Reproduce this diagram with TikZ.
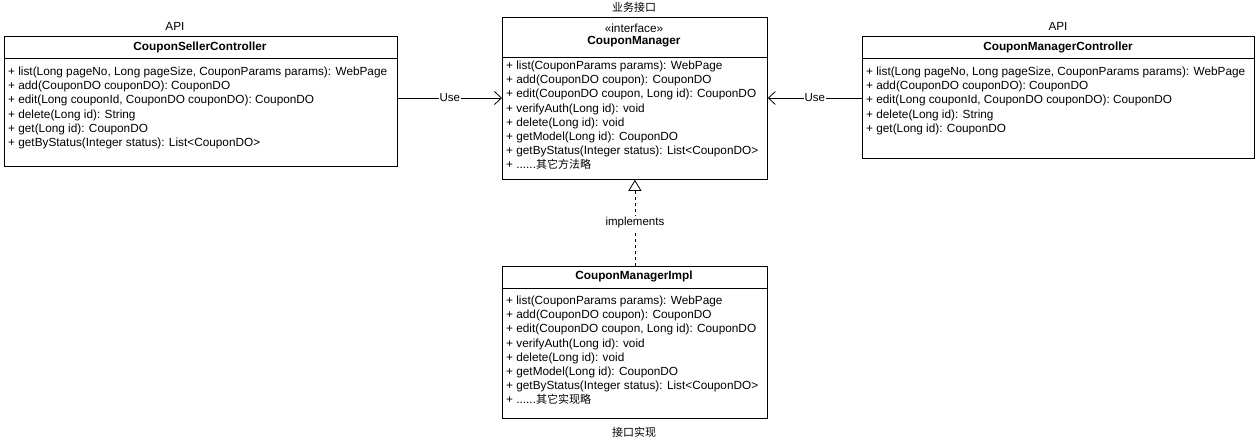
\documentclass[tikz,border=0pt]{standalone}
\usepackage{fontspec}
\setmainfont{Liberation Sans}
\newfontfamily\cjk{Noto Sans CJK SC}
\usetikzlibrary{arrows.meta}
\begin{document}
\begin{tikzpicture}[x=1pt,y=-1pt,
  box/.style={draw,line width=0.8pt,anchor=north west,inner sep=0,fill=white},
  txt/.style={anchor=north west,inner sep=0,align=left,font=\fontsize{11.8}{14.1}\selectfont},
  ttl/.style={inner sep=0,font=\fontsize{11.8}{12}\selectfont},
  bttl/.style={inner sep=0,font=\bfseries\fontsize{11.8}{12}\selectfont},
  conn/.style={line width=0.8pt}]
\useasboundingbox (0,0) rectangle (1258,445);
% boxes
\node[box,minimum width=393,minimum height=130] (L) at (4,36) {};
\node[box,minimum width=265,minimum height=162] (C) at (502,17) {};
\node[box,minimum width=392,minimum height=122] (R) at (862,36) {};
\node[box,minimum width=265,minimum height=152] (B) at (502,266) {};
% dividers
\coordinate (l1) at (4,58); \coordinate (l2) at (397,58);
\draw[line width=0.6pt] (l1) -- (l2);
\coordinate (c1) at (502,57); \coordinate (c2) at (767,57);
\draw[line width=0.6pt] (c1) -- (c2);
\coordinate (r1) at (862,58); \coordinate (r2) at (1254,58);
\draw[line width=0.6pt] (r1) -- (r2);
\coordinate (b1) at (502,288); \coordinate (b2) at (767,288);
\draw[line width=0.6pt] (b1) -- (b2);
% titles
\node[bttl] (lt) at (200,47) {CouponSellerController};
\node[ttl] (ci) at (634,28) {«interface»};
\node[bttl] (ct) at (634,42) {CouponManager};
\node[bttl] (rt) at (1058,47) {CouponManagerController};
\node[bttl] (bt) at (634,276) {CouponManagerImpl};
\node[ttl] (la) at (175,26) {API};
\node[ttl] (ra) at (1058,26) {API};
\node[ttl,font=\cjk\fontsize{11}{12}\selectfont] (cl) at (634,7) {业务接口};
\node[ttl,font=\cjk\fontsize{11}{12}\selectfont] (bl) at (634,432) {接口实现};
% methods
\node[txt] (lm) at (8,67) {+ list(Long pageNo, Long pageSize, CouponParams params): WebPage\\+ add(CouponDO couponDO): CouponDO\\+ edit(Long couponId, CouponDO couponDO): CouponDO\\+ delete(Long id): String\\+ get(Long id): CouponDO\\+ getByStatus(Integer status): List<CouponDO>};
\node[txt] (cm) at (506,61) {+ list(CouponParams params): WebPage\\+ add(CouponDO coupon): CouponDO\\+ edit(CouponDO coupon, Long id): CouponDO\\+ verifyAuth(Long id): void\\+ delete(Long id): void\\+ getModel(Long id): CouponDO\\+ getByStatus(Integer status): List<CouponDO>\\+ ......{\cjk\fontsize{11}{14.1}\selectfont 其它方法略}};
\node[txt] (rm) at (866,67) {+ list(Long pageNo, Long pageSize, CouponParams params): WebPage\\+ add(CouponDO couponDO): CouponDO\\+ edit(Long couponId, CouponDO couponDO): CouponDO\\+ delete(Long id): String\\+ get(Long id): CouponDO};
\node[txt] (bm) at (506,296) {+ list(CouponParams params): WebPage\\+ add(CouponDO coupon): CouponDO\\+ edit(CouponDO coupon, Long id): CouponDO\\+ verifyAuth(Long id): void\\+ delete(Long id): void\\+ getModel(Long id): CouponDO\\+ getByStatus(Integer status): List<CouponDO>\\+ ......{\cjk\fontsize{11}{14.1}\selectfont 其它实现略}};
% connectors
\draw[conn,-{Straight Barb[length=7pt,width=13pt]}] (L.east |- 0,98) -- node[fill=white,inner sep=1pt,font=\fontsize{11.5}{12}\selectfont]{Use} (C.west |- 0,98);
\draw[conn,-{Straight Barb[length=7pt,width=13pt]}] (R.west |- 0,98) -- node[fill=white,inner sep=1pt,font=\fontsize{11.5}{12}\selectfont]{Use} (C.east |- 0,98);
\draw[conn,dash pattern=on 3pt off 3pt,-{Triangle[open,length=11pt,width=13pt,fill=white]}] (B.north) -- node[fill=white,inner sep=2pt,font=\fontsize{11.5}{12}\selectfont]{implements} (C.south);
\end{tikzpicture}
\end{document}
